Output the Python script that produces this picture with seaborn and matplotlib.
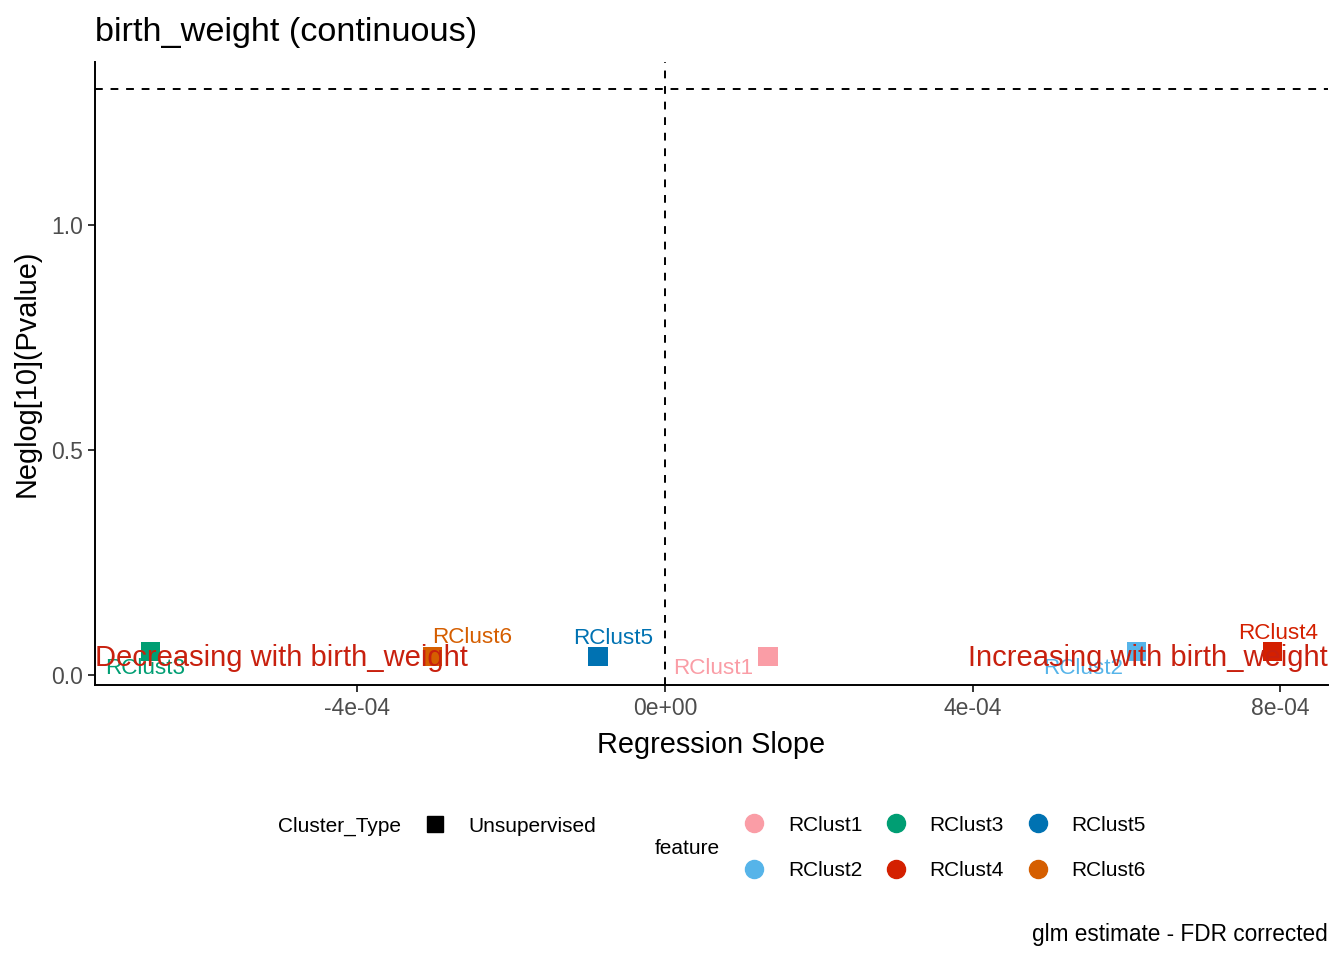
import numpy as np
import pandas as pd
import matplotlib
matplotlib.use("Agg")
import matplotlib.pyplot as plt
from matplotlib.lines import Line2D
import seaborn as sns

# values
features = ["RClust1", "RClust2", "RClust3", "RClust4", "RClust5", "RClust6"]
slopes = [1.34e-4, 6.13e-4, -6.69e-4, 7.90e-4, -8.7e-5, -3.02e-4]
neglog_p = [0.042, 0.053, 0.053, 0.053, 0.042, 0.041]
cluster_type = ["Unsupervised"] * 6
colors = ["#FA9DA6", "#56B4E9", "#009E73", "#D42000", "#0072B2", "#D55E00"]
# ggrepel-ish label offsets (pixels)
label_offsets = [(-55, -12), (-53, -17), (-5, -17), (6, 18), (15, 18), (40, 19)]

fdr_line = -np.log10(0.05)
trait = "birth_weight"

df = pd.DataFrame({"feature": features, "slope": slopes,
                   "neglog_p": neglog_p, "Cluster_Type": cluster_type})
pal = dict(zip(features, colors))

sns.set_theme(style="ticks")
plt.rcParams["font.family"] = ["Liberation Sans", "DejaVu Sans"]
plt.rcParams["text.color"] = "black"
plt.rcParams["axes.labelcolor"] = "black"

fig = plt.figure(figsize=(13.44, 9.6), dpi=100)
ax = fig.add_axes([95 / 1344, 1 - 685 / 960, (1328 - 95) / 1344, (685 - 62) / 960])

ax.axhline(fdr_line, color="black", ls=(0, (4, 4)), lw=1.4, zorder=1)
ax.axvline(0, color="black", ls=(0, (4, 4)), lw=1.4, zorder=1)

sns.scatterplot(data=df, x="slope", y="neglog_p", hue="feature", palette=pal,
                marker="s", s=190, linewidth=0, legend=False, ax=ax, zorder=3)

for f, x, y, c, off in zip(features, slopes, neglog_p, colors, label_offsets):
    ax.annotate(f, (x, y), xytext=off, textcoords="offset pixels",
                ha="center", va="center", color=c, fontsize=16.2, zorder=4)

ax.set_xlim(-7.41e-4, 8.62e-4)
ax.set_ylim(-0.022, 1.362)

ax.text(-7.41e-4, 0.037, f"Decreasing with {trait}", ha="left", va="center",
        color="#C8200E", fontsize=21, zorder=5)
ax.text(8.62e-4, 0.037, f"Increasing with {trait}", ha="right", va="center",
        color="#C8200E", fontsize=21, zorder=5)

ax.set_xticks([-4e-4, 0, 4e-4, 8e-4])
ax.set_xticklabels(["-4e-04", "0e+00", "4e-04", "8e-04"])
ax.set_yticks([0.0, 0.5, 1.0])
ax.set_yticklabels(["0.0", "0.5", "1.0"])
ax.tick_params(labelsize=16.5, labelcolor="#4D4D4D", color="#333333",
               length=5, width=1.4)
for side in ["top", "right"]:
    ax.spines[side].set_visible(False)
for side in ["left", "bottom"]:
    ax.spines[side].set_linewidth(1.4)
    ax.spines[side].set_color("black")

ax.set_xlabel("Regression Slope", fontsize=20.8, labelpad=8)
ax.set_ylabel("Neglog[10](Pvalue)", fontsize=20.8, labelpad=8)
ax.set_title(f"{trait} (continuous)", fontsize=24.7, loc="left", pad=15)

# legends
fs = 15
fig.text(278 / 1344, 1 - 826 / 960, "Cluster_Type", fontsize=fs, va="center", ha="left")
ct_handle = [Line2D([], [], marker="s", ls="", color="black", markersize=12)]
fig.legend(ct_handle, ["Unsupervised"], loc="center left",
           bbox_to_anchor=(425 / 1344, 1 - 826 / 960), frameon=False,
           fontsize=fs, handlelength=1.0, handletextpad=1.1, borderpad=0,
           borderaxespad=0)

fig.text(655 / 1344, 1 - 849 / 960, "feature", fontsize=fs, va="center", ha="left")
f_handles = [Line2D([], [], marker="o", ls="", color=pal[f], markersize=13)
             for f in features]
fig.legend(f_handles, features, loc="center left", ncol=3,
           bbox_to_anchor=(744 / 1344, 1 - 848 / 960), frameon=False,
           fontsize=fs, handlelength=1.0, handletextpad=1.1, borderpad=0,
           borderaxespad=0, columnspacing=1.13, labelspacing=1.29)

fig.text(1328 / 1344, 1 - 934 / 960, "glm estimate - FDR corrected",
         fontsize=16.3, ha="right", va="center")

fig.savefig("out.png", dpi=100)
